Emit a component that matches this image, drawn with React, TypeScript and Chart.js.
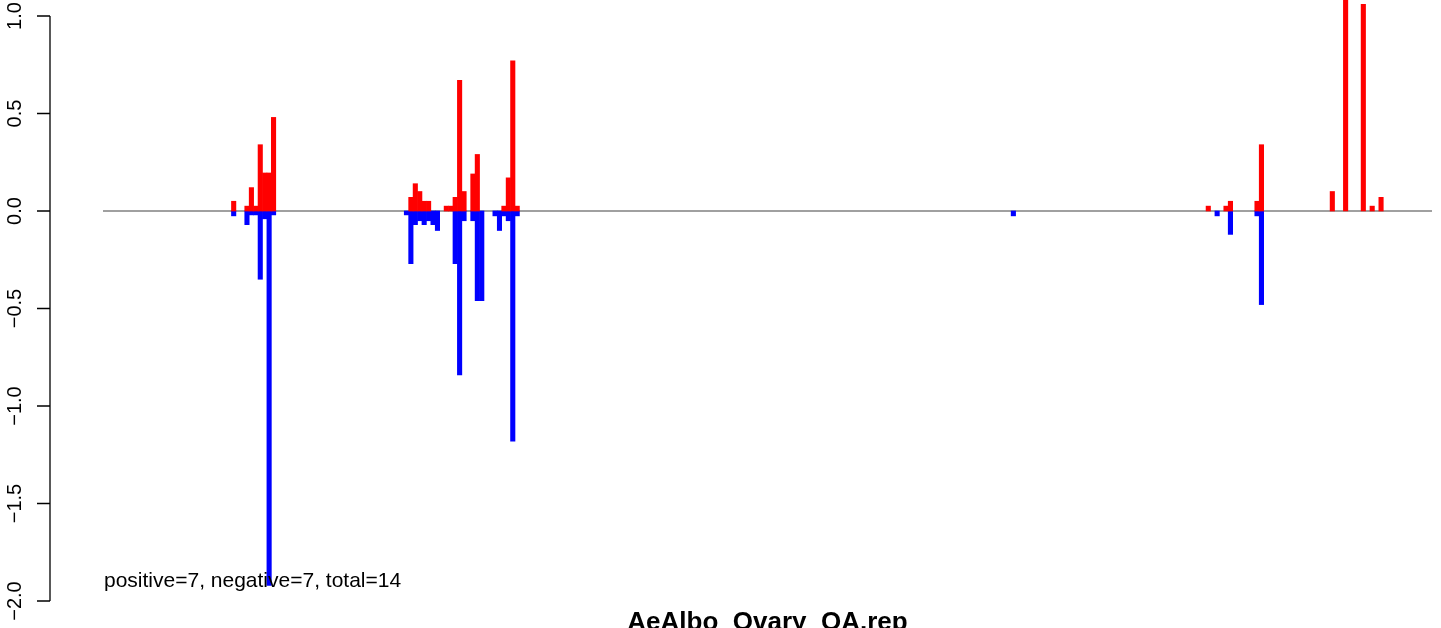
import React, { useEffect, useRef } from "react";
import { Chart, registerables } from "chart.js";

Chart.register(...registerables);

// Number of genomic bins along the x axis
const binCount = 300;

// Bins holding data (bin index), with their positive and negative values
const binIndex = [
  29, 32, 33, 34, 35, 36, 37, 38,
  68, 69, 70, 71, 72, 73, 74, 75,
  77, 78, 79, 80, 81, 83, 84, 85, 88, 89, 90, 91, 92, 93,
  205,
  249, 251, 253, 254, 260, 261,
  277, 280, 284, 286, 288,
];
const posValues = [
  0.05, 0.025, 0.12, 0.025, 0.34, 0.195, 0.195, 0.48,
  0, 0.07, 0.14, 0.1, 0.05, 0.05, 0, 0,
  0.025, 0.025, 0.07, 0.67, 0.1, 0.19, 0.29, 0, 0, 0, 0.025, 0.17, 0.77, 0.025,
  0,
  0.025, 0, 0.025, 0.05, 0.05, 0.34,
  0.1, 1.25, 1.06, 0.025, 0.07,
];
const negValues = [
  -0.025, -0.07, -0.02, -0.02, -0.35, -0.04, -1.92, -0.02,
  -0.02, -0.27, -0.07, -0.05, -0.07, -0.05, -0.07, -0.1,
  0, 0, -0.27, -0.84, -0.05, -0.05, -0.46, -0.46, -0.025, -0.1, -0.025, -0.05, -1.18, -0.025,
  -0.025,
  0, -0.025, 0, -0.12, -0.025, -0.48,
  0, 0, 0, 0, 0,
];

const yTickValues = [-2, -1.5, -1, -0.5, 0, 0.5, 1];
const yTickLabels = ["\u22122.0", "\u22121.5", "\u22121.0", "\u22120.5", "0.0", "0.5", "1.0"];

const titleText = "AeAlbo_Ovary_OA.rep";
const summaryText = "positive=7, negative=7, total=14";

const FONT = "'Liberation Sans', Arial, Helvetica, sans-serif";

export default function App() {
  const ref = useRef<HTMLCanvasElement | null>(null);

  useEffect(() => {
    document.body.style.margin = "0";
    const canvas = ref.current;
    if (!canvas) return;

    const labels = Array.from({ length: binCount }, (_, i) => String(i));
    const pos: (number | null)[] = Array(binCount).fill(null);
    const neg: (number | null)[] = Array(binCount).fill(null);
    binIndex.forEach((b, i) => {
      if (posValues[i]) pos[b] = posValues[i];
      if (negValues[i]) neg[b] = negValues[i];
    });

    const overlay = {
      id: "overlay",
      beforeDatasetsDraw(chart: any) {
        const { ctx, chartArea } = chart;
        const ys = chart.scales.y;
        const y0 = ys.getPixelForValue(0);
        ctx.save();
        ctx.strokeStyle = "#a0a0a0";
        ctx.lineWidth = 2;
        ctx.beginPath();
        ctx.moveTo(chartArea.left, y0);
        ctx.lineTo(chartArea.right, y0);
        ctx.stroke();
        ctx.restore();
      },
      afterDraw(chart: any) {
        const { ctx, chartArea } = chart;
        const ys = chart.scales.y;
        const axisX = 50;
        const top = ys.getPixelForValue(yTickValues[yTickValues.length - 1]);
        const bottom = ys.getPixelForValue(yTickValues[0]);
        ctx.save();
        ctx.strokeStyle = "#000";
        ctx.lineWidth = 1.3;
        ctx.beginPath();
        ctx.moveTo(axisX, top);
        ctx.lineTo(axisX, bottom);
        yTickValues.forEach((v) => {
          const py = ys.getPixelForValue(v);
          ctx.moveTo(37, py);
          ctx.lineTo(axisX, py);
        });
        ctx.stroke();

        ctx.fillStyle = "#000";
        ctx.font = `20px ${FONT}`;
        ctx.textAlign = "center";
        ctx.textBaseline = "alphabetic";
        yTickValues.forEach((v, i) => {
          const py = ys.getPixelForValue(v);
          ctx.save();
          ctx.translate(21, py);
          ctx.rotate(-Math.PI / 2);
          ctx.fillText(yTickLabels[i], 0, 0);
          ctx.restore();
        });

        ctx.textAlign = "left";
        ctx.font = `21px ${FONT}`;
        ctx.fillText(summaryText, chartArea.left + 1, 587);

        ctx.textAlign = "center";
        ctx.font = `bold 26px ${FONT}`;
        ctx.fillText(titleText, (chartArea.left + chartArea.right) / 2, 630);
        ctx.restore();
      },
    };

    const chart = new Chart(canvas, {
      type: "bar",
      data: {
        labels,
        datasets: [
          {
            data: pos,
            backgroundColor: "#ff0000",
            borderWidth: 0,
            grouped: false,
            barPercentage: 1,
            categoryPercentage: 1,
          } as any,
          {
            data: neg,
            backgroundColor: "#0000ff",
            borderWidth: 0,
            grouped: false,
            barPercentage: 1,
            categoryPercentage: 1,
          } as any,
        ],
      },
      options: {
        animation: false,
        responsive: false,
        maintainAspectRatio: false,
        layout: { padding: { left: 103, right: 9, top: 0, bottom: 0 } },
        plugins: {
          legend: { display: false },
          tooltip: { enabled: false },
          title: { display: false },
        },
        scales: {
          x: { type: "category", display: false, offset: true },
          y: { type: "linear", display: false, min: -417 / 195, max: 211 / 195 },
        },
      },
      plugins: [overlay],
    });

    return () => chart.destroy();
  }, []);

  return (
    <div style={{ width: 1441, height: 628 }}>
      <canvas ref={ref} width={1441} height={628} style={{ display: "block" }} />
    </div>
  );
}
